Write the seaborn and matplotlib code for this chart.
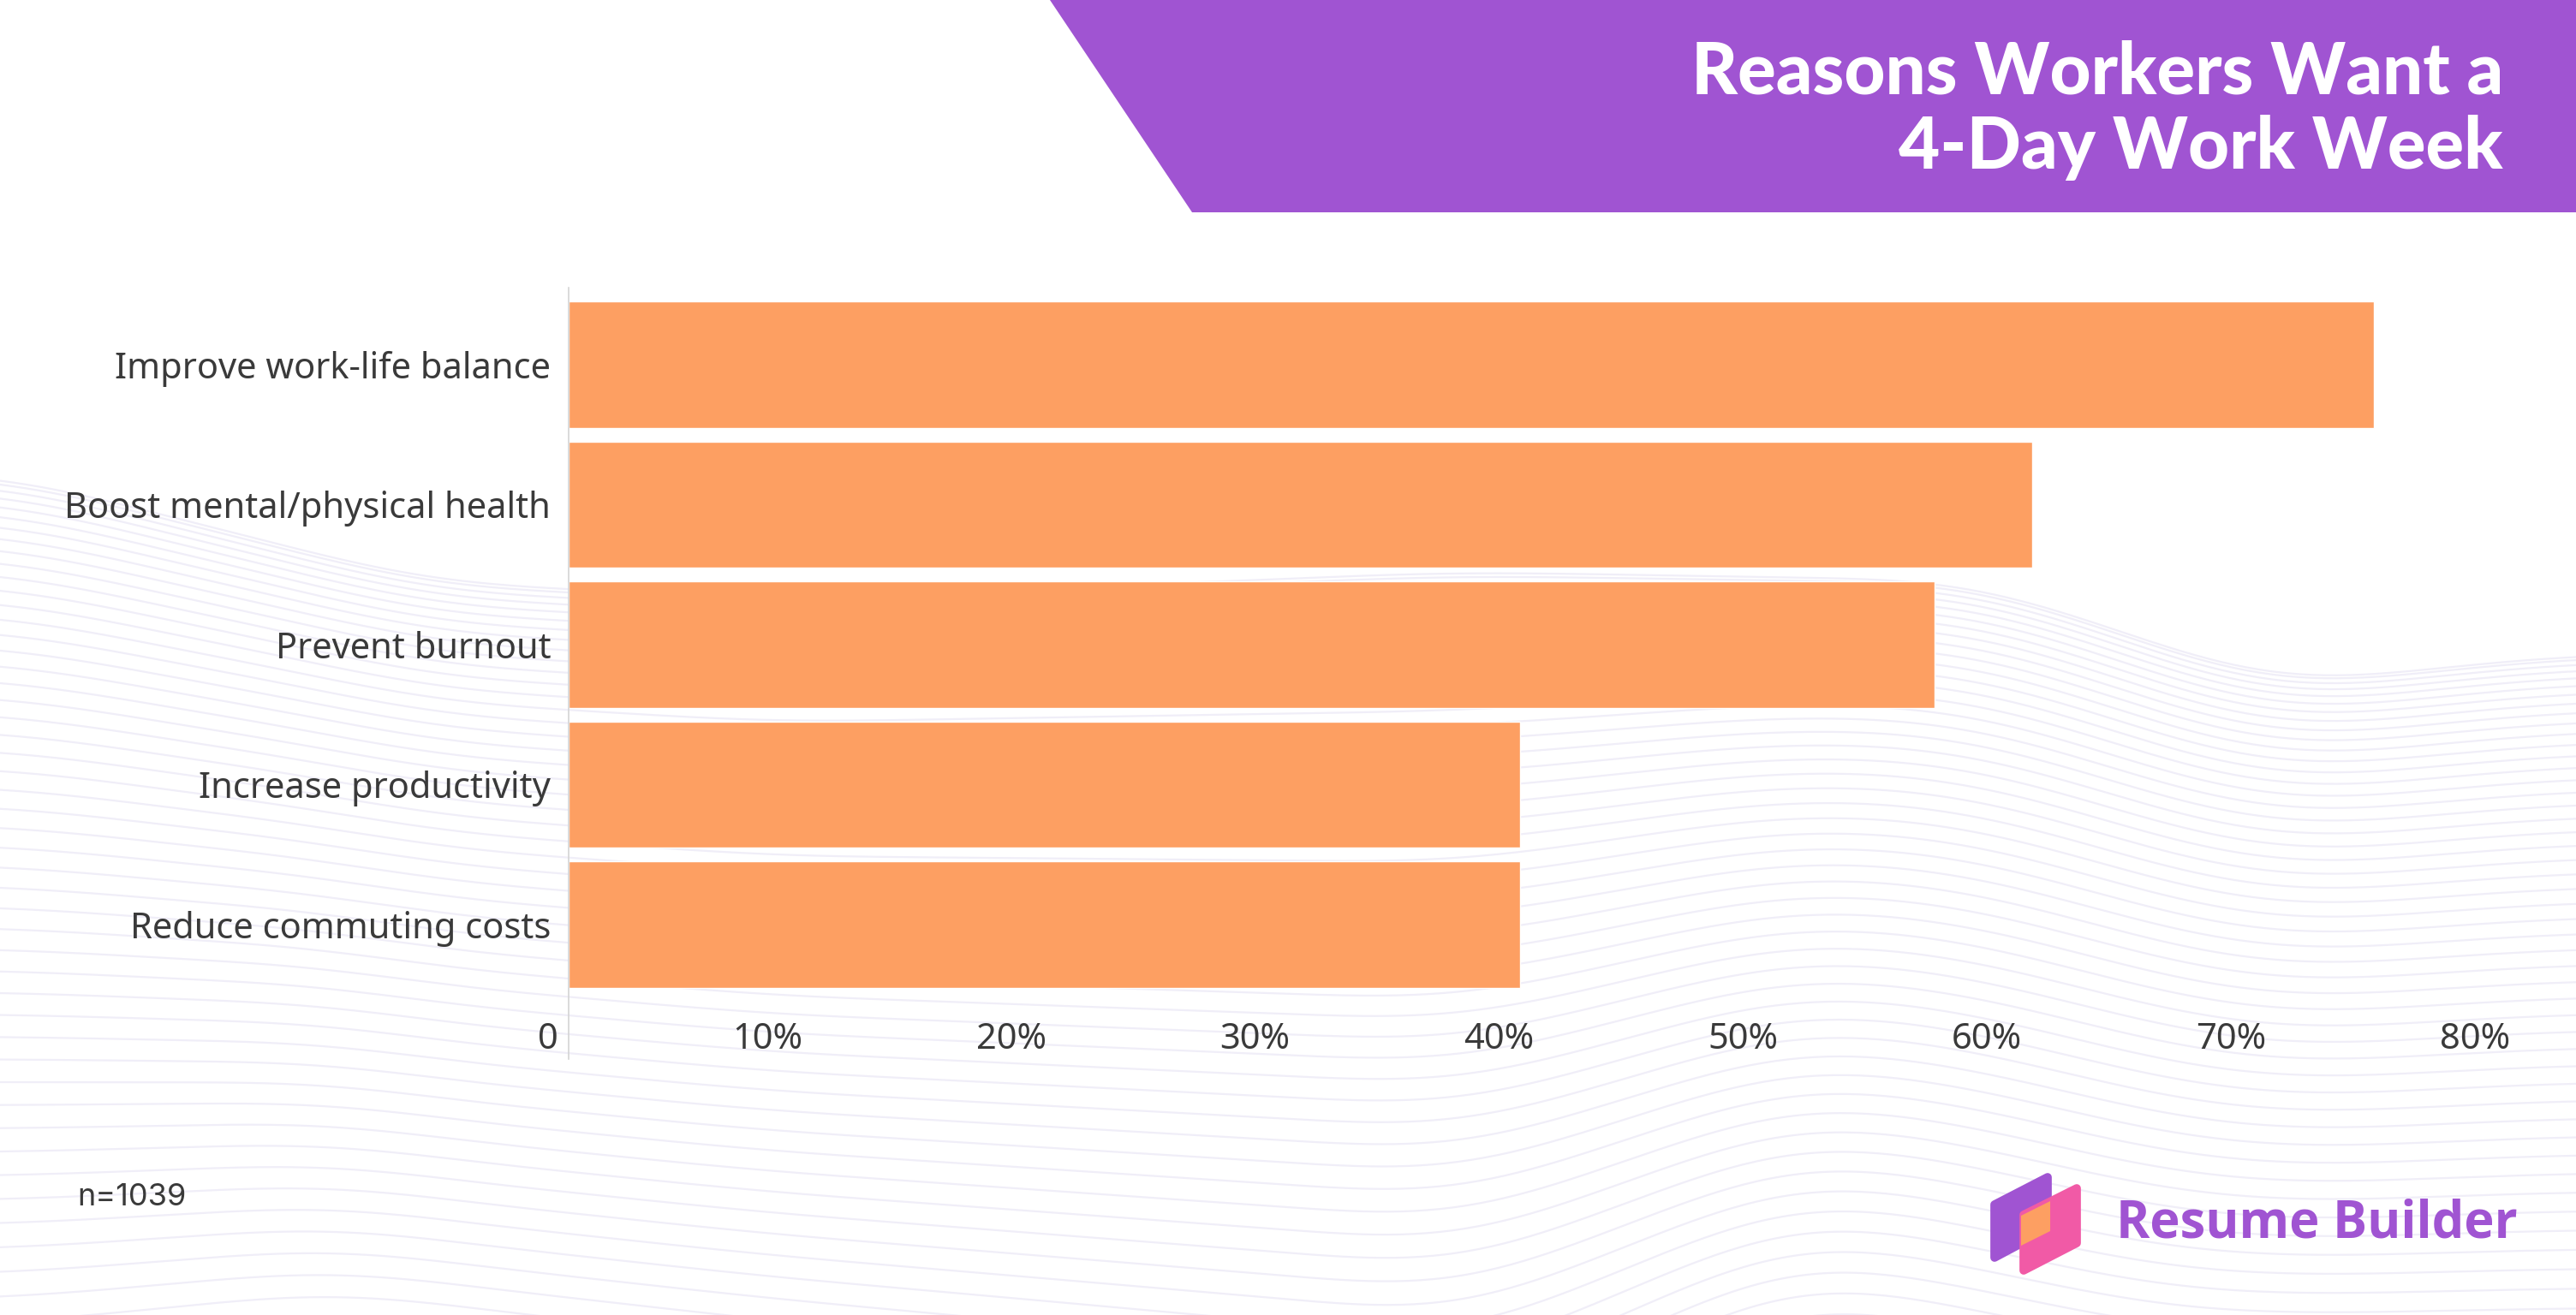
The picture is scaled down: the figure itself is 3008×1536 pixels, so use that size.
import numpy as np
import pandas as pd
import seaborn as sns
from matplotlib import pyplot as plt
from matplotlib import transforms
from matplotlib.patches import Polygon

reasons = [
    "Improve work-life balance",
    "Boost mental/physical health",
    "Prevent burnout",
    "Increase productivity",
    "Reduce commuting costs",
]
share = [74, 60, 56, 39, 39]
x_ticks = [0, 10, 20, 30, 40, 50, 60, 70, 80]
x_tick_labels = ["0", "10%", "20%", "30%", "40%", "50%", "60%", "70%", "80%"]

title_lines = ["Reasons Workers Want a", "4-Day Work Week"]
sample_note = "n=1039"
brand = "Resume Builder"

PURPLE = "#A054D2"
PINK = "#F15AA6"
ORANGE = "#FD9F62"
TEXT = "#3A3A3A"

df = pd.DataFrame({"reason": reasons, "share": share})

sns.set_theme(style="white")
plt.rcParams["font.family"] = ["Noto Sans", "DejaVu Sans"]

W, H = 3008, 1536
fig = plt.figure(figsize=(W / 100, H / 100), dpi=100)
fig.patch.set_facecolor("white")

# background: faint wave lines + purple header band, in pixel coords
bg = fig.add_axes([0, 0, 1, 1], zorder=0)
bg.set_xlim(0, W)
bg.set_ylim(H, 0)
bg.axis("off")

xs = np.linspace(0, W, 400)
top_pts_x = [0, 500, 900, 1700, 2300, 2660, 3008]
top_pts_y = [553, 680, 700, 668, 678, 800, 764]
bot_pts_x = [0, 400, 1100, 1700, 2100, 2500, 3008]
bot_pts_y = [1760, 1690, 1780, 1860, 1640, 1720, 1720]
kern = np.hanning(61)
kern /= kern.sum()


def smooth(px, py):
    y = np.interp(xs, px, py)
    pad = np.pad(y, 30, mode="edge")
    return np.convolve(pad, kern, mode="valid")


top_curve = smooth(top_pts_x, top_pts_y)
bot_curve = smooth(bot_pts_x, bot_pts_y)
for u in np.linspace(0, 1, 55):
    t = u ** 1.4
    bg.plot(xs, (1 - t) * top_curve + t * bot_curve, color="#F0EEF8", lw=1.6, zorder=0)

bg.add_patch(Polygon([(1226, 0), (1392, 248), (W, 248), (W, 0)],
                     closed=True, facecolor=PURPLE, edgecolor="none", zorder=1))

# logo icon
bg.add_patch(Polygon([(2329, 1407), (2391, 1375), (2391, 1436), (2329, 1469)],
                     closed=True, facecolor=PURPLE, edgecolor=PURPLE, lw=7,
                     joinstyle="round", zorder=2))
bg.add_patch(Polygon([(2363, 1419), (2425, 1388), (2425, 1452), (2363, 1484)],
                     closed=True, facecolor=PINK, edgecolor=PINK, lw=7,
                     joinstyle="round", zorder=3))
bg.add_patch(Polygon([(2360, 1420), (2394, 1403), (2394, 1438), (2360, 1455)],
                     closed=True, facecolor=ORANGE, edgecolor="none", zorder=4))

# main chart
ax = fig.add_axes([664 / W, 1 - 1237 / H, (2943 - 664) / W, (1237 - 336) / H], zorder=1)
ax.patch.set_alpha(0)

sns.barplot(data=df, x="share", y="reason", orient="h", color=ORANGE,
            saturation=1, width=0.9, ax=ax)

ax.set_xlim(0, 80)
ax.set_ylim(4.96, -0.55)
ax.set_xlabel("")
ax.set_ylabel("")
ax.set_xticks(x_ticks)
ax.set_xticklabels(x_tick_labels)

for s in ["top", "right", "bottom"]:
    ax.spines[s].set_visible(False)
ax.spines["left"].set_color("#D4D4D4")
ax.spines["left"].set_linewidth(1.2)

ax.tick_params(axis="y", length=0, pad=15, labelsize=30, labelcolor=TEXT)
ax.tick_params(axis="x", length=0, pad=-32, labelsize=30, labelcolor=TEXT)
shift = transforms.ScaledTranslation(-0.12, 0, fig.dpi_scale_trans)
for lab in ax.get_xticklabels():
    lab.set_ha("right")
    lab.set_transform(lab.get_transform() + shift)

for line, base in zip(title_lines, [110, 197]):
    fig.text(2923 / W, 1 - base / H, line, ha="right", va="baseline", color="white",
             fontsize=60, fontweight="black", family=["Lato", "DejaVu Sans"])
fig.text(90 / W, 1 - 1398 / H, sample_note, ha="left", va="center", color=TEXT,
         fontsize=26, family=["Inter", "DejaVu Sans"])
fig.text(2471 / W, 1 - 1446 / H, brand, ha="left", va="baseline", color=PURPLE,
         fontsize=43, fontweight="bold", family=["Open Sans", "DejaVu Sans"])

fig.savefig("out.png", dpi=100)
